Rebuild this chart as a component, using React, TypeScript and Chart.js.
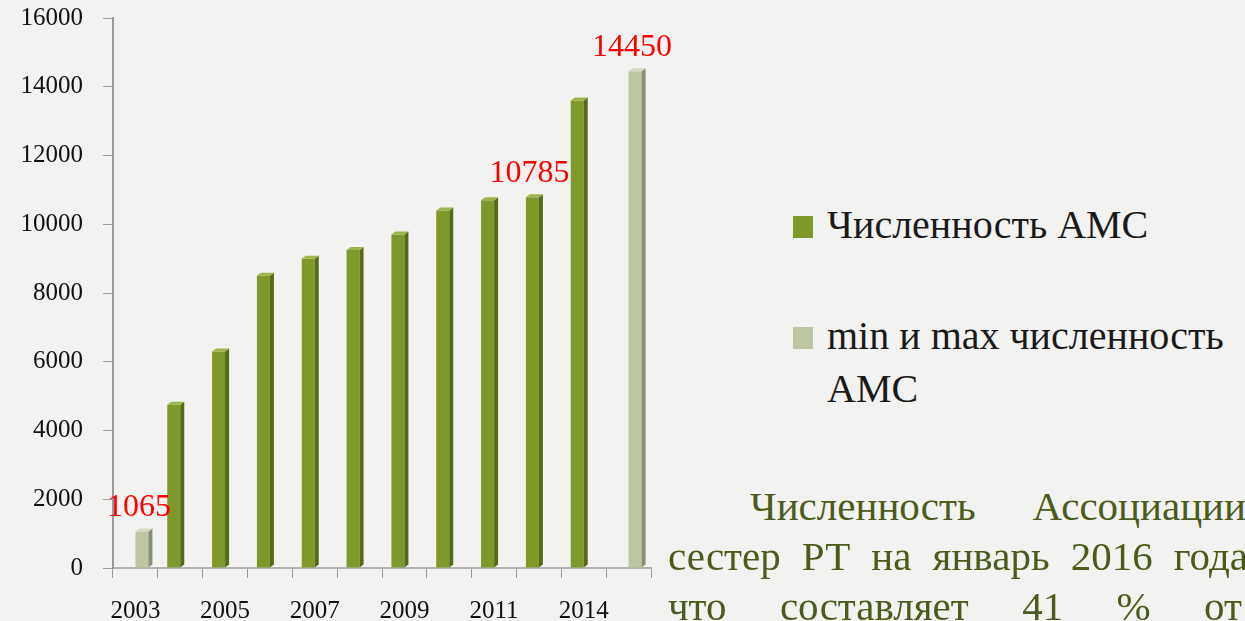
import React, { useEffect, useRef } from "react";
import { Chart, registerables } from "chart.js";

Chart.register(...registerables);

// ---- data ----
const categories = ["2003", "2004", "2005", "2006", "2007", "2008", "2009", "2010", "2011", "2013", "2014", "2016"];
const amsValues = [null, 4750, 6300, 8500, 9000, 9250, 9700, 10400, 10700, 10785, 13600, null];
const minMaxValues = [1065, null, null, null, null, null, null, null, null, null, null, 14450];
const seriesNames = ["Численность АМС", "min и max численность АМС"];
const annotatedCategories = ["2003", "2013", "2016"];
const yTicks = [0, 2000, 4000, 6000, 8000, 10000, 12000, 14000, 16000];
const noteLines = ["Численность Ассоциации", "сестер РТ на январь 2016 года", "что составляет 41 % от"];

// ---- styles ----
const FRONT = ["#7f982a", "#bcc6a2"];
const SIDE = ["#566b17", "#878f78"];
const TOP = ["#9cb44a", "#d3dabf"];
const SERIF = "'Liberation Serif', 'Times New Roman', serif";

const bar3d = {
  id: "bar3d",
  afterDatasetsDraw(chart: any) {
    const ctx = chart.ctx;
    chart.data.datasets.forEach((ds: any, di: number) => {
      const meta = chart.getDatasetMeta(di);
      meta.data.forEach((el: any, i: number) => {
        if (ds.data[i] == null) return;
        const { x, y, base, width } = el.getProps(["x", "y", "base", "width"], true);
        const l = x - width / 2;
        const r = x + width / 2;
        const d = 4;
        const u = 3;
        ctx.save();
        ctx.fillStyle = SIDE[di];
        ctx.beginPath();
        ctx.moveTo(r, y);
        ctx.lineTo(r + d, y - u);
        ctx.lineTo(r + d, base - u);
        ctx.lineTo(r, base);
        ctx.closePath();
        ctx.fill();
        ctx.fillStyle = TOP[di];
        ctx.beginPath();
        ctx.moveTo(l, y);
        ctx.lineTo(l + d, y - u);
        ctx.lineTo(r + d, y - u);
        ctx.lineTo(r, y);
        ctx.closePath();
        ctx.fill();
        ctx.restore();
      });
    });
  },
};

const valueLabels = {
  id: "valueLabels",
  afterDatasetsDraw(chart: any) {
    const ctx = chart.ctx;
    ctx.save();
    ctx.fillStyle = "#ff0000";
    ctx.font = `32px ${SERIF}`;
    ctx.textAlign = "center";
    ctx.textBaseline = "alphabetic";
    chart.data.datasets.forEach((ds: any, di: number) => {
      const meta = chart.getDatasetMeta(di);
      meta.data.forEach((el: any, i: number) => {
        const v = ds.data[i];
        if (v == null || !annotatedCategories.includes(categories[i])) return;
        const { x, y } = el.getProps(["x", "y"], true);
        ctx.fillText(String(v), x - 3, y - 15);
      });
    });
    ctx.restore();
  },
};

function BarChart() {
  const ref = useRef<HTMLCanvasElement | null>(null);
  useEffect(() => {
    if (!ref.current) return;
    const chart = new Chart(ref.current, {
      type: "bar",
      data: {
        labels: categories,
        datasets: [
          { label: seriesNames[0], data: amsValues, backgroundColor: FRONT[0], barPercentage: 1, categoryPercentage: 0.58 },
          { label: seriesNames[1], data: minMaxValues, backgroundColor: FRONT[1], barPercentage: 1, categoryPercentage: 0.58 },
        ],
      },
      options: {
        animation: false,
        responsive: true,
        maintainAspectRatio: false,
        layout: { padding: { top: 18, right: 29, left: 0, bottom: 0 } },
        plugins: { legend: { display: false }, tooltip: { enabled: false } },
        scales: {
          x: {
            grid: { display: true, drawOnChartArea: false, drawTicks: true, tickLength: 10, color: "#9a9a9a", offset: true },
            border: { display: true, color: "#b4b4b4", width: 2 },
            ticks: {
              autoSkip: false,
              maxRotation: 0,
              color: "#111",
              padding: 18,
              font: { family: SERIF, size: 25 },
              callback: (_v: any, i: number) => (i % 2 === 0 ? categories[i] : ""),
            },
            afterFit: (s: any) => {
              s.height = 53;
              s.paddingLeft = 0;
              s.paddingRight = 0;
            },
          },
          y: {
            min: 0,
            max: 16000,
            afterBuildTicks: (s: any) => { s.ticks = yTicks.map((v) => ({ value: v })); },
            grid: { display: true, drawOnChartArea: false, drawTicks: true, tickLength: 10, color: "#9a9a9a" },
            border: { display: true, color: "#9a9a9a", width: 2 },
            ticks: {
              color: "#111",
              padding: 20,
              font: { family: SERIF, size: 25 },
              callback: (v: any) => String(v),
            },
            afterFit: (s: any) => {
              s.width = 113;
              s.paddingTop = 0;
              s.paddingBottom = 0;
            },
          },
        },
      },
      plugins: [bar3d, valueLabels],
    });
    return () => chart.destroy();
  }, []);
  return <canvas ref={ref} />;
}

export default function App() {
  return (
    <div
      style={{
        position: "fixed",
        left: 0,
        top: 0,
        width: 1245,
        height: 621,
        overflow: "hidden",
        background: "#f2f2f1",
        fontFamily: SERIF,
      }}
    >
      <div style={{ position: "absolute", left: 0, top: 0, width: 680, height: 621 }}>
        <BarChart />
      </div>
      {seriesNames.map((name, i) => (
        <div
          key={name}
          style={{
            position: "absolute",
            left: 793,
            top: i === 0 ? 198 : 309,
            width: 452,
            display: "flex",
            alignItems: "flex-start",
            fontSize: 40,
            lineHeight: "53px",
            color: "#1a1a1a",
          }}
        >
          <span style={{ display: "inline-block", width: 20, height: 22, background: FRONT[i], marginTop: 18, marginRight: 14, flex: "none" }} />
          <span>{name}</span>
        </div>
      ))}
      {noteLines.map((line, i) => (
        <div
          key={line}
          style={{
            position: "absolute",
            left: i === 0 ? 750 : 668,
            top: 481 + i * 50,
            width: i === 0 ? 496 : i === 1 ? 580 : 574,
            fontSize: 41,
            lineHeight: "50px",
            color: "#4b5b1c",
            whiteSpace: "nowrap",
            textAlign: "justify",
            textAlignLast: "justify",
          }}
        >
          {line}
        </div>
      ))}
    </div>
  );
}
